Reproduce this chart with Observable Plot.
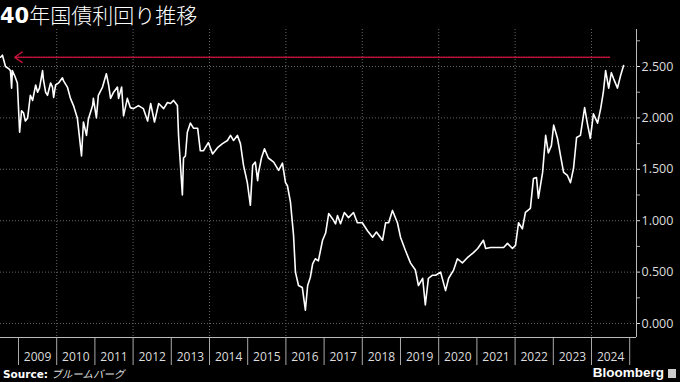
<!DOCTYPE html>
<html><head><meta charset="utf-8">
<script src="https://cdn.jsdelivr.net/npm/d3@7"></script>
<script src="https://cdn.jsdelivr.net/npm/@observablehq/plot@0.6"></script>
<style>
html,body{margin:0;padding:0;background:#000;}
#wrap{width:680px;height:382px;position:relative;overflow:hidden;background:#000;}
#title{height:28px;line-height:28px;padding-left:0px;color:#fff;font-size:21px;font-family:"Noto Sans CJK JP";white-space:nowrap;font-weight:300;}
#title b{font-family:"DejaVu Sans";font-weight:bold;}
#chart{height:338px;}
#foot{position:relative;height:16px;color:#fff;}
#src{position:absolute;left:3px;top:0px;font-size:10.5px;line-height:16px;font-family:"DejaVu Sans";}
#src b{font-weight:bold;}
#src i{font-family:"Noto Sans CJK JP";font-style:oblique;color:#ddd;}
#bb{position:absolute;right:4px;top:-1px;font-family:"Liberation Sans";font-weight:bold;font-size:13.5px;line-height:16px;color:#fff;}
#bb span{display:inline-block;width:8px;height:9px;background:#ccc;margin-left:4px;vertical-align:-1px;}
</style></head>
<body><div id="wrap">
<div id="title"><b>40</b>年国債利回り推移</div>
<div id="chart"></div>
<div id="foot"><div id="src"><b>Source:</b> <i>ブルームバーグ</i></div><div id="bb">Bloomberg<span></span></div></div>
</div>
<script>
// decimal-year dates and 40-year JGB yield (%)
const dates = [2008.53,2008.58,2008.66,2008.74,2008.79,2008.82,2008.84,2008.90,2008.97,2009.03,2009.08,2009.13,2009.18,2009.24,2009.31,2009.37,2009.45,2009.50,2009.55,2009.63,2009.65,2009.71,2009.76,2009.84,2009.89,2009.92,2009.97,2010.05,2010.15,2010.18,2010.28,2010.36,2010.44,2010.54,2010.57,2010.65,2010.70,2010.78,2010.83,2010.94,2010.96,2011.04,2011.09,2011.20,2011.30,2011.36,2011.41,2011.49,2011.59,2011.62,2011.70,2011.75,2011.85,2011.93,2012.01,2012.14,2012.27,2012.38,2012.46,2012.56,2012.67,2012.80,2012.90,2012.98,2013.06,2013.16,2013.19,2013.29,2013.32,2013.37,2013.42,2013.50,2013.58,2013.69,2013.76,2013.84,2013.97,2014.08,2014.21,2014.34,2014.47,2014.55,2014.63,2014.73,2014.81,2014.89,2014.99,2015.07,2015.13,2015.20,2015.26,2015.28,2015.36,2015.44,2015.54,2015.68,2015.81,2015.91,2015.99,2016.04,2016.12,2016.20,2016.25,2016.33,2016.43,2016.51,2016.57,2016.64,2016.70,2016.77,2016.85,2016.96,2017.04,2017.12,2017.22,2017.30,2017.35,2017.43,2017.53,2017.64,2017.77,2017.87,2018.00,2018.14,2018.27,2018.37,2018.53,2018.61,2018.69,2018.79,2018.92,2019.00,2019.13,2019.26,2019.39,2019.47,2019.58,2019.65,2019.73,2019.84,2019.92,2020.05,2020.18,2020.26,2020.39,2020.49,2020.62,2020.75,2020.91,2021.02,2021.17,2021.23,2021.36,2021.54,2021.70,2021.80,2021.93,2022.01,2022.09,2022.19,2022.27,2022.40,2022.48,2022.56,2022.61,2022.72,2022.80,2022.87,2022.95,2023.01,2023.11,2023.19,2023.27,2023.37,2023.45,2023.53,2023.61,2023.71,2023.82,2023.90,2023.97,2024.05,2024.16,2024.24,2024.31,2024.37,2024.45,2024.52,2024.58,2024.68,2024.76,2024.84];
const yields = [2.59,2.61,2.50,2.48,2.46,2.29,2.46,2.41,2.34,1.86,2.07,2.05,1.97,2.00,2.22,2.17,2.32,2.25,2.29,2.46,2.38,2.25,2.22,2.34,2.30,2.20,2.32,2.34,2.39,2.36,2.30,2.19,2.12,2.00,1.90,1.63,1.96,1.83,1.99,2.12,2.19,2.00,2.22,2.30,2.43,2.32,2.19,2.25,2.30,2.19,2.30,2.02,2.19,2.10,2.09,2.12,2.09,1.97,2.14,1.96,2.14,2.09,2.15,2.14,2.17,2.12,1.83,1.25,1.61,1.63,1.86,1.95,1.90,1.90,1.68,1.68,1.76,1.65,1.71,1.75,1.78,1.83,1.78,1.83,1.75,1.54,1.37,1.15,1.54,1.57,1.39,1.46,1.61,1.70,1.61,1.57,1.49,1.56,1.37,1.34,1.18,0.86,0.50,0.37,0.35,0.13,0.37,0.45,0.58,0.63,0.61,0.81,0.88,1.07,1.02,0.97,1.05,0.97,1.08,1.03,1.08,0.98,0.98,0.90,0.84,0.89,0.81,0.98,0.98,1.10,0.98,0.84,0.71,0.59,0.52,0.37,0.44,0.18,0.44,0.47,0.47,0.50,0.32,0.44,0.52,0.63,0.59,0.64,0.69,0.73,0.81,0.73,0.74,0.74,0.74,0.78,0.73,0.76,0.98,0.92,1.08,1.12,1.41,1.42,1.22,1.47,1.83,1.66,1.73,1.93,1.80,1.63,1.47,1.44,1.37,1.51,1.81,1.83,2.10,1.93,1.80,2.04,1.95,2.09,2.25,2.46,2.29,2.44,2.38,2.29,2.41,2.51];
const yearTicks = [2009,2010,2011,2012,2013,2014,2015,2016,2017,2018,2019,2020,2021,2022,2023,2024,2025];
const yearLabels = ["2009","2010","2011","2012","2013","2014","2015","2016","2017","2018","2019","2020","2021","2022","2023","2024"];
const gridYears = [2010,2012,2014,2016,2018,2020,2022,2024];
const yTicks = [0,0.5,1,1.5,2,2.5];
const yMinorTicks = [0.25,0.75,1.25,1.75,2.25,2.75];
// annotation: dotted arrow from current level back to 2008 high
const arrowFrom = [2024.47];
const arrowTo = [2008.90];
const arrowLevel = [2.59];

const data = dates.map((d,i)=>({t:d, v:yields[i]}));
const labelData = yearLabels.map(s=>({x:+s+0.5, s}));
const xDomain = [2008.529, 2025.178];
const yDomain = [-0.136, 2.860];

const chart = Plot.plot({
  width:680, height:338, marginTop:1, marginBottom:29, marginLeft:0, marginRight:44,
  style:{background:"#000", color:"#ddd", fontFamily:"Open Sans", fontSize:"12px", overflow:"visible"},
  x:{type:"linear", domain:xDomain, axis:null},
  y:{domain:yDomain, axis:null},
  marks:[
    Plot.ruleY(yTicks, {stroke:"#666", strokeDasharray:"1,2"}),
    Plot.ruleX(gridYears, {stroke:"#666", strokeDasharray:"1,2"}),
    Plot.axisX(yearTicks, {tickSize:28, tickFormat:()=>"", color:"#aaa"}),
    Plot.axisX(labelData.map(d=>d.x), {tickSize:0, tickPadding:15, tickFormat:d=>String(Math.floor(d)), color:"#ddd", fontSize:12}),
    Plot.axisY(yTicks, {anchor:"right", tickSize:3, tickPadding:2, tickFormat:d3.format(".3f"), color:"#ddd", fontSize:12.5}),
    Plot.axisY(yMinorTicks, {anchor:"right", tickSize:3, tickFormat:()=>"", color:"#aaa"}),
    Plot.ruleY([yDomain[0]], {stroke:"#bbb"}),
    Plot.ruleX([xDomain[1]], {stroke:"#bbb"}),
    Plot.line(data, {x:"t", y:"v", stroke:"#fff", strokeWidth:1.6}),
    Plot.arrow(arrowFrom.map((f,i)=>({x1:f, x2:arrowTo[i], y:arrowLevel[i]})), {x1:"x1", x2:"x2", y1:"y", y2:"y", stroke:"#c8143c", strokeWidth:1.5, strokeDasharray:"1.2,1.3", headLength:9, headAngle:70})
  ]
});
document.getElementById("chart").appendChild(chart);
</script>
</body></html>
